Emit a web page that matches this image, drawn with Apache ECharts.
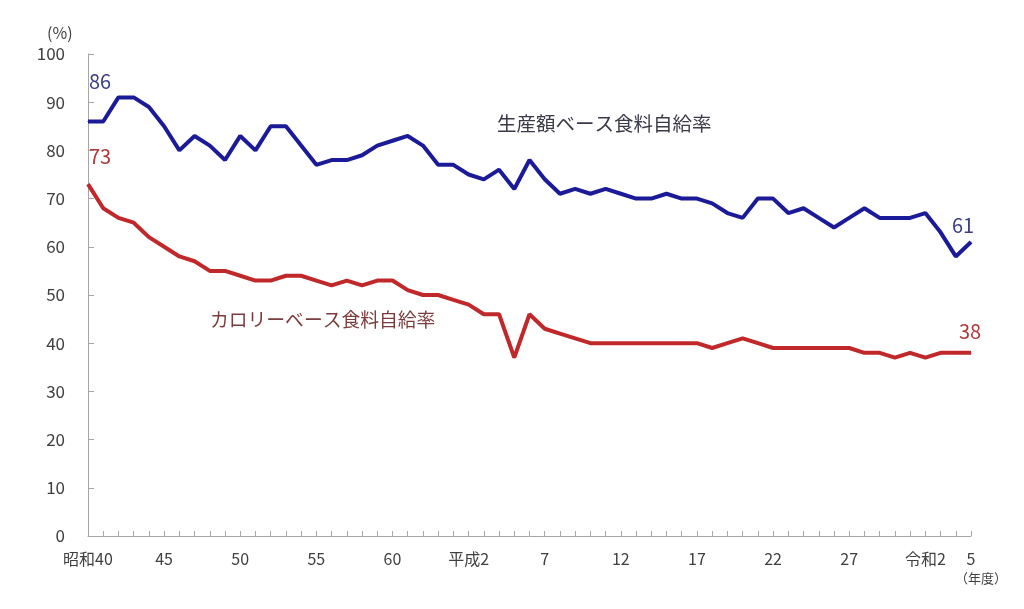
<!DOCTYPE html>
<html>
<head>
<meta charset="utf-8">
<script src="https://cdn.jsdelivr.net/npm/echarts@6/dist/echarts.min.js"></script>
<style>
  html, body { margin: 0; padding: 0; background: #fff; }
  #main { width: 1024px; height: 609px; }
</style>
</head>
<body>
<div id="main"></div>
<script>
// 年度（和暦）
var years = [
  '昭和40', '昭和41', '昭和42', '昭和43', '昭和44', '昭和45', '昭和46', '昭和47', '昭和48', '昭和49',
  '昭和50', '昭和51', '昭和52', '昭和53', '昭和54', '昭和55', '昭和56', '昭和57', '昭和58', '昭和59',
  '昭和60', '昭和61', '昭和62', '昭和63', '平成元', '平成2', '平成3', '平成4', '平成5', '平成6',
  '平成7', '平成8', '平成9', '平成10', '平成11', '平成12', '平成13', '平成14', '平成15', '平成16',
  '平成17', '平成18', '平成19', '平成20', '平成21', '平成22', '平成23', '平成24', '平成25', '平成26',
  '平成27', '平成28', '平成29', '平成30', '令和元', '令和2', '令和3', '令和4', '令和5'
];

// 生産額ベース食料自給率
var productionRate = [
  86, 86, 91, 91, 89, 85, 80, 83, 81, 78,
  83, 80, 85, 85, 81, 77, 78, 78, 79, 81,
  82, 83, 81, 77, 77, 75, 74, 76, 72, 78,
  74, 71, 72, 71, 72, 71, 70, 70, 71, 70,
  70, 69, 67, 66, 70, 70, 67, 68, 66, 64,
  66, 68, 66, 66, 66, 67, 63, 58, 61
];

// カロリーベース食料自給率
var calorieRate = [
  73, 68, 66, 65, 62, 60, 58, 57, 55, 55,
  54, 53, 53, 54, 54, 53, 52, 53, 52, 53,
  53, 51, 50, 50, 49, 48, 46, 46, 37, 46,
  43, 42, 41, 40, 40, 40, 40, 40, 40, 40,
  40, 39, 40, 41, 40, 39, 39, 39, 39, 39,
  39, 38, 38, 37, 38, 37, 38, 38, 38
];

// x軸に表示する目盛ラベル
var tickYears = ['昭和40', '昭和45', '昭和50', '昭和55', '昭和60', '平成2', '平成7', '平成12', '平成17', '平成22', '平成27', '令和2', '令和5'];
var tickLabels = ['昭和40', '45', '50', '55', '60', '平成2', '7', '12', '17', '22', '27', '令和2', '5'];

var font = '"Noto Sans CJK JP", "Noto Sans", sans-serif';

// 最初と最後の点だけ数値を出す
function endLabels(values, color, firstOffset, lastOffset) {
  var last = values.length - 1;
  return values.map(function (v, i) {
    var show = (i === 0 || i === last);
    return {
      value: v,
      label: {
        show: show,
        position: 'top',
        distance: 0,
        offset: i === 0 ? firstOffset : lastOffset,
        color: color,
        fontSize: 20,
        fontFamily: font
      }
    };
  });
}

var chart = echarts.init(document.getElementById('main'));

chart.setOption({
  animation: false,
  grid: {
    left: 88,
    right: 53,
    top: 54,
    bottom: 73
  },
  xAxis: {
    type: 'category',
    data: years,
    boundaryGap: false,
    axisLine: { lineStyle: { color: '#a6a6a6', width: 1 } },
    axisTick: {
      show: true,
      inside: true,
      length: 5,
      interval: 0,
      lineStyle: { color: '#a6a6a6' }
    },
    axisLabel: {
      interval: function (idx, value) {
        return tickYears.indexOf(value) >= 0;
      },
      formatter: function (value) {
        var k = tickYears.indexOf(value);
        return k >= 0 ? tickLabels[k] : '';
      },
      color: '#404040',
      fontSize: 16,
      fontFamily: font,
      margin: 15
    },
    splitLine: { show: false }
  },
  yAxis: {
    type: 'value',
    min: 0,
    max: 100,
    interval: 10,
    axisLine: { show: true, lineStyle: { color: '#a6a6a6', width: 1 } },
    axisTick: {
      show: true,
      inside: true,
      length: 6,
      lineStyle: { color: '#a6a6a6' }
    },
    axisLabel: {
      color: '#404040',
      fontSize: 17,
      fontFamily: font,
      margin: 23
    },
    splitLine: { show: false }
  },
  graphic: [
    {
      type: 'text', left: 47, top: 25,
      style: { text: '(%)', fill: '#404040', font: '16px ' + font }
    },
    {
      type: 'text', left: 955, top: 572,
      style: { text: '（年度）', fill: '#404040', font: '13px ' + font }
    },
    {
      type: 'text', left: 497, top: 114,
      style: { text: '生産額ベース食料自給率', fill: '#3a3a48', font: '19.5px ' + font }
    },
    {
      type: 'text', left: 210, top: 310,
      style: { text: 'カロリーベース食料自給率', fill: '#7a3c3c', font: '18.8px ' + font }
    }
  ],
  series: [
    {
      name: '生産額ベース食料自給率',
      type: 'line',
      data: endLabels(productionRate, '#3d3d85', [12, -30], [-8, -6]),
      symbol: 'circle',
      symbolSize: 1,
      showSymbol: true,
      itemStyle: { color: '#1b1b9a' },
      lineStyle: { color: '#1b1b9a', width: 4 },
      z: 3
    },
    {
      name: 'カロリーベース食料自給率',
      type: 'line',
      data: endLabels(calorieRate, '#b03a3a', [12, -17], [-1, -11]),
      symbol: 'circle',
      symbolSize: 1,
      showSymbol: true,
      itemStyle: { color: '#c0282a' },
      lineStyle: { color: '#c0282a', width: 4 },
      z: 2
    }
  ]
});
</script>
</body>
</html>
